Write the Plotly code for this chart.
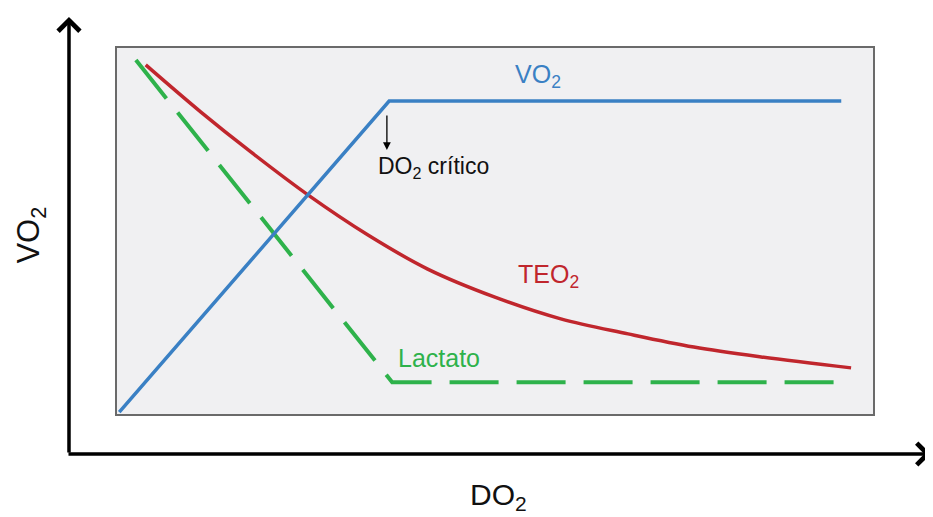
import plotly.graph_objects as go

# Data (abstract units, 0-100 on both axes of the gray panel)
vo2_x = [0.3, 36.0, 95.8]
vo2_y = [0.5, 85.5, 85.5]

teo2_x = [3.8, 11.1, 17.7, 25.3, 33.2, 41.1, 49.9, 58.7, 67.6, 76.3, 85.2, 97.1]
teo2_y = [95.4, 82.5, 71.6, 59.8, 48.9, 39.6, 32.0, 26.0, 21.9, 18.3, 15.6, 12.6]

lact_x = [2.5, 36.4, 97.1]
lact_y = [96.7, 8.7, 8.7]

BLUE = "#3a80c4"
RED = "#c0262d"
GREEN = "#2eb24b"
FONT = "Liberation Sans, Arial, sans-serif"

fig = go.Figure()
fig.add_trace(go.Scatter(x=lact_x, y=lact_y, mode="lines",
                         line=dict(color=GREEN, width=4, dash="49px,18px"),
                         hoverinfo="skip"))
fig.add_trace(go.Scatter(x=teo2_x, y=teo2_y, mode="lines",
                         line=dict(color=RED, width=3.5, shape="spline", smoothing=1.0),
                         hoverinfo="skip"))
fig.add_trace(go.Scatter(x=vo2_x, y=vo2_y, mode="lines",
                         line=dict(color=BLUE, width=3.5),
                         hoverinfo="skip"))

ann = []
ann.append(dict(x=55.7, y=92.3, xref="x", yref="y", text="VO<sub>2</sub>", showarrow=False,
                font=dict(color=BLUE, size=25, family=FONT)))
ann.append(dict(x=41.8, y=67.4, xref="x", yref="y", text="DO<sub>2</sub> crítico", showarrow=False,
                font=dict(color="#111111", size=23, family=FONT)))
ann.append(dict(x=57.1, y=37.6, xref="x", yref="y", text="TEO<sub>2</sub>", showarrow=False,
                font=dict(color=RED, size=25, family=FONT)))
ann.append(dict(x=42.6, y=15.2, xref="x", yref="y", text="Lactato", showarrow=False,
                font=dict(color=GREEN, size=25, family=FONT)))
# critical DO2 arrow
ann.append(dict(x=35.7, y=72.1, ax=35.7, ay=82.0, xref="x", yref="y", axref="x", ayref="y",
                text="", showarrow=True, arrowhead=2, arrowsize=1.2, arrowwidth=1.3,
                arrowcolor="#000000"))
# outer axis arrows
ann.append(dict(x=-0.0635, y=1.0847, xref="paper", yref="paper", ax=0, ay=437,
                text="", showarrow=True, arrowhead=4, arrowsize=1.2, arrowwidth=3.5,
                arrowcolor="#000000"))
ann.append(dict(x=1.0767, y=-0.1093, xref="paper", yref="paper", ax=-864, ay=0,
                text="", showarrow=True, arrowhead=4, arrowsize=1.2, arrowwidth=3.5,
                arrowcolor="#000000"))
# axis titles
ann.append(dict(x=-0.143, y=0.49, xref="paper", yref="paper", text="VO<sub>2</sub>", showarrow=False,
                textangle=-90, font=dict(color="#111111", size=31, family=FONT)))
ann.append(dict(x=0.505, y=-0.282, xref="paper", yref="paper", text="DO<sub>2</sub>", showarrow=False,
                font=dict(color="#111111", size=30, family=FONT)))

fig.update_layout(
    width=933, height=517,
    margin=dict(l=109, r=68, t=40, b=111),
    paper_bgcolor="white",
    plot_bgcolor="#f0f0f2",
    showlegend=False,
    annotations=ann,
    xaxis=dict(range=[0, 100], showgrid=False, zeroline=False, showticklabels=False, ticks="",
               showline=True, mirror=True, linecolor="#6a6a6a", linewidth=2),
    yaxis=dict(range=[0, 100], showgrid=False, zeroline=False, showticklabels=False, ticks="",
               showline=True, mirror=True, linecolor="#6a6a6a", linewidth=2),
)

fig.write_html("out.html")
